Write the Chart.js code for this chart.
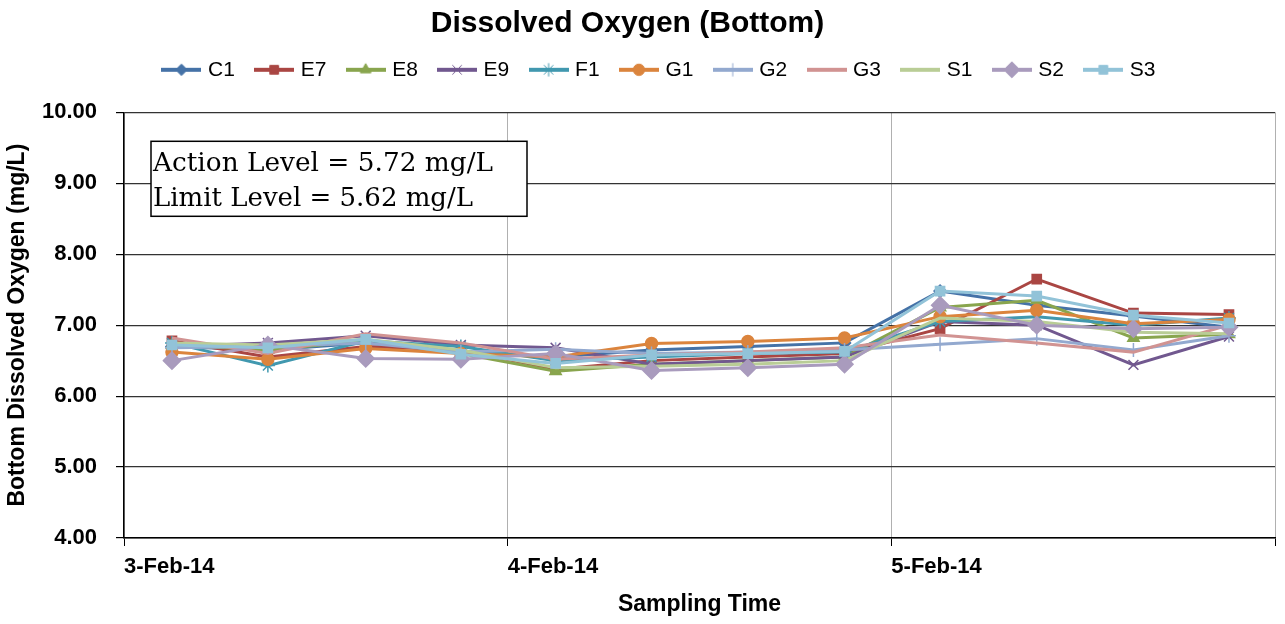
<!DOCTYPE html>
<html>
<head>
<meta charset="utf-8">
<script src="https://cdn.jsdelivr.net/npm/chart.js@4.4.1/dist/chart.umd.min.js"></script>
<style>
  html, body { margin: 0; padding: 0; background: #fff; }
  #wrap { width: 1285px; height: 624px; position: relative; }
</style>
</head>
<body>
<div id="wrap"><canvas id="doChart"></canvas></div>
<script>
// sampling times, in days after 3-Feb-14 00:00 (03:00, 09:00, 15:00, 21:00)
const sampleTimes = [0.125, 0.375, 0.63, 0.878, 1.125, 1.375, 1.626, 1.878, 2.127, 2.379, 2.631, 2.88];
const dayLabels = ["3-Feb-14", "4-Feb-14", "5-Feb-14"];
const yTicks = [4, 5, 6, 7, 8, 9, 10];

const stations = ["C1", "E7", "E8", "E9", "F1", "G1", "G2", "G3", "S1", "S2", "S3"];

const c1 = [6.70, 6.65, 6.75, 6.62, 6.55, 6.65, 6.70, 6.75, 7.48, 7.28, 7.13, 6.97];
const e7 = [6.78, 6.55, 6.70, 6.65, 6.38, 6.50, 6.55, 6.60, 6.95, 7.65, 7.17, 7.15];
const e8 = [6.72, 6.65, 6.78, 6.60, 6.35, 6.45, 6.50, 6.55, 7.25, 7.35, 6.82, 6.87];
const e9 = [6.70, 6.75, 6.85, 6.72, 6.68, 6.45, 6.50, 6.55, 7.05, 7.00, 6.44, 6.84];
const f1 = [6.75, 6.43, 6.78, 6.70, 6.50, 6.55, 6.60, 6.62, 7.05, 7.12, 7.00, 7.10];
const g1 = [6.62, 6.52, 6.67, 6.60, 6.55, 6.74, 6.77, 6.82, 7.12, 7.21, 7.02, 7.08];
const g2 = [6.68, 6.70, 6.75, 6.62, 6.66, 6.60, 6.62, 6.65, 6.73, 6.81, 6.65, 6.85];
const g3 = [6.82, 6.60, 6.88, 6.75, 6.52, 6.58, 6.62, 6.68, 6.86, 6.75, 6.62, 7.00];
const s1 = [6.75, 6.72, 6.80, 6.65, 6.40, 6.42, 6.45, 6.50, 7.10, 7.05, 6.90, 6.88];
const s2 = [6.50, 6.72, 6.53, 6.52, 6.60, 6.36, 6.40, 6.45, 7.28, 7.00, 6.95, 6.97];
const s3 = [6.72, 6.68, 6.80, 6.59, 6.46, 6.58, 6.60, 6.63, 7.48, 7.41, 7.14, 7.03];

const seriesValues = [c1, e7, e8, e9, f1, g1, g2, g3, s1, s2, s3];

const annotationLines = ["Action Level = 5.72 mg/L", "Limit Level = 5.62 mg/L"];

/* series looks (Excel 2007 palette) */
const colors = ["#4572A7", "#AA4643", "#89A54E", "#71588F", "#4198AF", "#DB843D",
                "#93A9CF", "#D19392", "#B9CD96", "#A99BBD", "#92C3D8"];
const markers = ["rectRot", "rect", "triangle", "crossRot", "star", "circle",
                 "cross", false, false, "rectRot", "rect"];
const markerSize = [6, 6.5, 6.5, 7, 7, 6, 7, 0, 0, 8.5, 6.5];

const FONT = "Arial, 'Liberation Sans', sans-serif";

/* small canvas used as legend symbol: line with marker in the middle */
function legendSymbol(color, style, r) {
    const c = document.createElement("canvas");
    c.width = 40; c.height = 18;
    const ctx = c.getContext("2d");
    ctx.strokeStyle = color;
    ctx.fillStyle = color;
    ctx.lineWidth = 4;
    ctx.beginPath();
    ctx.moveTo(0, 9); ctx.lineTo(40, 9);
    ctx.stroke();
    if (style) {
        ctx.lineWidth = 1;
        Chart.helpers.drawPoint(ctx, { pointStyle: style, radius: r * 0.95, rotation: 0, borderWidth: 1 }, 20, 9);
    }
    return c;
}

const datasets = stations.map((name, i) => ({
    label: name,
    data: sampleTimes.map((t, k) => ({ x: t, y: seriesValues[i][k] })),
    borderColor: colors[i],
    backgroundColor: colors[i],
    borderWidth: 3,
    pointStyle: markers[i] || "circle",
    pointRadius: markers[i] ? markerSize[i] : 0,
    pointBorderWidth: 1.5,
    pointHoverRadius: markers[i] ? markerSize[i] : 0,
    tension: 0,
    order: stations.length - i
}));

// extra room under the legend, and nudge title/legend like the original
const legendGap = {
    id: "legendGap",
    beforeInit(chart) {
        const fit = chart.legend.fit;
        chart.legend.fit = function () {
            fit.bind(chart.legend)();
            this.height += 16;
        };
    },
    afterLayout(chart) {
        chart.legend.left += 17;
        chart.legend.right += 17;
        chart.legend.top -= 6;
        if (chart.titleBlock) {
            chart.titleBlock.left -= 16;
            chart.titleBlock.right -= 16;
        }
    }
};

const boxPlugin = {
    id: "levelBox",
    afterDraw(chart) {
        const ctx = chart.ctx;
        const a = chart.chartArea;
        const x = a.left + 27, y = a.top + 29, w = 376, h = 75;
        ctx.save();
        ctx.fillStyle = "#fff";
        ctx.fillRect(x, y, w, h);
        ctx.strokeStyle = "#000";
        ctx.lineWidth = 1.5;
        ctx.strokeRect(x, y, w, h);
        ctx.fillStyle = "#000";
        ctx.font = "26px 'DejaVu Serif', 'Liberation Serif', serif";
        ctx.textBaseline = "alphabetic";
        annotationLines.forEach((t, i) => {
            const tw = ctx.measureText(t).width;
            const target = i === 0 ? 340 : 320;
            ctx.save();
            ctx.translate(x + 2, y + 30 + i * 35);
            ctx.scale(target / tw, 1);
            ctx.fillText(t, 0, 0);
            ctx.restore();
        });
        ctx.restore();
    }
};

new Chart(document.getElementById("doChart"), {
    type: "line",
    data: { datasets },
    options: {
        responsive: true,
        maintainAspectRatio: false,
        animation: false,
        layout: { padding: { left: 4, right: 2, top: 0, bottom: 6 } },
        plugins: {
            title: {
                display: true,
                text: "Dissolved Oxygen (Bottom)",
                color: "#000",
                font: { family: FONT, size: 30, weight: "bold" },
                padding: { top: 6, bottom: 0 }
            },
            legend: {
                position: "top",
                labels: {
                    usePointStyle: true,
                    pointStyleWidth: 32,
                    boxHeight: 18,
                    padding: 23.3,
                    color: "#000",
                    font: { family: FONT, size: 21 },
                    generateLabels(chart) {
                        return chart.data.datasets.map((d, i) => ({
                            text: d.label,
                            pointStyle: legendSymbol(colors[i], markers[i], markerSize[i]),
                            fillStyle: colors[i],
                            strokeStyle: colors[i],
                            lineWidth: 0,
                            hidden: false,
                            datasetIndex: i
                        }));
                    }
                }
            },
            tooltip: { enabled: false }
        },
        scales: {
            x: {
                type: "linear",
                min: 0,
                max: 3,
                afterBuildTicks(scale) {
                    scale.ticks = [0, 1, 2, 3].map(v => ({ value: v }));
                },
                afterFit(scale) { scale.paddingRight = 0; },
                ticks: {
                    align: "start",
                    color: "#000",
                    padding: 8,
                    maxRotation: 0,
                    font: { family: FONT, size: 22, weight: "bold" },
                    callback: v => dayLabels[v] || ""
                },
                grid: { color: "#b0b0b0", lineWidth: 1, tickLength: 8, tickColor: "#000" },
                border: { color: "#000", width: 1.5 },
                title: {
                    display: true,
                    text: "Sampling Time",
                    color: "#000",
                    font: { family: FONT, size: 23, weight: "bold" },
                    padding: { top: 2, bottom: 0 }
                }
            },
            y: {
                min: 4,
                max: 10,
                afterBuildTicks(scale) {
                    scale.ticks = yTicks.map(v => ({ value: v }));
                },
                afterFit(scale) { scale.width = 120; },
                ticks: {
                    color: "#000",
                    padding: 19,
                    font: { family: FONT, size: 22, weight: "bold" },
                    callback: v => Number(v).toFixed(2)
                },
                grid: { color: "#333", lineWidth: 1.2, tickLength: 8, tickColor: "#000" },
                border: { color: "#000", width: 1.5 },
                title: {
                    display: true,
                    text: "Bottom Dissolved Oxygen (mg/L)",
                    color: "#000",
                    font: { family: FONT, size: 23, weight: "bold" },
                    padding: { top: 0, bottom: 0 }
                }
            }
        }
    },
    plugins: [legendGap, boxPlugin]
});
</script>
</body>
</html>
